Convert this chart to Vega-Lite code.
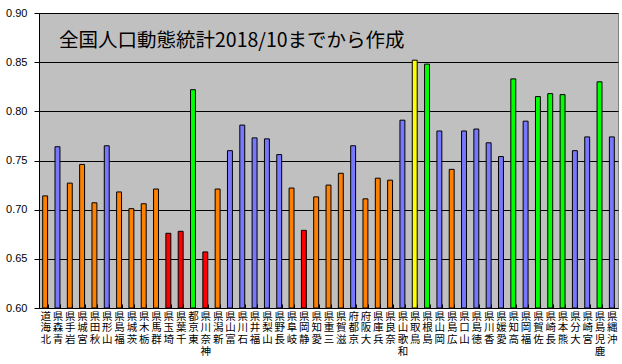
{
  "$schema": "https://vega.github.io/schema/vega-lite/v6.json",
  "autosize": "none",
  "width": 579,
  "height": 295,
  "padding": {"left": 39, "top": 13, "right": 4, "bottom": 56},
  "background": "#ffffff",
  "title": {
    "text": "全国人口動態統計2018/10までから作成",
    "anchor": "start",
    "frame": "group",
    "orient": "top",
    "font": "Noto Sans CJK JP",
    "fontSize": 19.5,
    "fontWeight": "normal",
    "color": "#000000",
    "baseline": "top",
    "offset": 0,
    "dx": 20,
    "dy": 44
  },
  "config": {
    "view": {"fill": "#C0C0C0", "stroke": "#808080", "strokeWidth": 1}
  },
  "data": {
    "values": [
      {"pref": "北海道", "value": 0.714},
      {"pref": "青森県", "value": 0.764},
      {"pref": "岩手県", "value": 0.727},
      {"pref": "宮城県", "value": 0.746},
      {"pref": "秋田県", "value": 0.707},
      {"pref": "山形県", "value": 0.765},
      {"pref": "福島県", "value": 0.718},
      {"pref": "茨城県", "value": 0.701},
      {"pref": "栃木県", "value": 0.706},
      {"pref": "群馬県", "value": 0.721},
      {"pref": "埼玉県", "value": 0.676},
      {"pref": "千葉県", "value": 0.678},
      {"pref": "東京都", "value": 0.822},
      {"pref": "神奈川県", "value": 0.657},
      {"pref": "新潟県", "value": 0.721},
      {"pref": "富山県", "value": 0.760},
      {"pref": "石川県", "value": 0.786},
      {"pref": "福井県", "value": 0.773},
      {"pref": "山梨県", "value": 0.772},
      {"pref": "長野県", "value": 0.756},
      {"pref": "岐阜県", "value": 0.722},
      {"pref": "静岡県", "value": 0.679},
      {"pref": "愛知県", "value": 0.713},
      {"pref": "三重県", "value": 0.725},
      {"pref": "滋賀県", "value": 0.737},
      {"pref": "京都府", "value": 0.765},
      {"pref": "大阪府", "value": 0.711},
      {"pref": "兵庫県", "value": 0.732},
      {"pref": "奈良県", "value": 0.730},
      {"pref": "和歌山県", "value": 0.791},
      {"pref": "鳥取県", "value": 0.852},
      {"pref": "島根県", "value": 0.848},
      {"pref": "岡山県", "value": 0.780},
      {"pref": "広島県", "value": 0.741},
      {"pref": "山口県", "value": 0.780},
      {"pref": "徳島県", "value": 0.782},
      {"pref": "香川県", "value": 0.768},
      {"pref": "愛媛県", "value": 0.754},
      {"pref": "高知県", "value": 0.833},
      {"pref": "福岡県", "value": 0.790},
      {"pref": "佐賀県", "value": 0.815},
      {"pref": "長崎県", "value": 0.818},
      {"pref": "熊本県", "value": 0.817},
      {"pref": "大分県", "value": 0.760},
      {"pref": "宮崎県", "value": 0.774},
      {"pref": "鹿児島県", "value": 0.830},
      {"pref": "沖縄県", "value": 0.774}
    ]
  },
  "mark": {"type": "bar", "stroke": "#000000", "strokeWidth": 1},
  "encoding": {
    "x": {
      "field": "pref",
      "type": "nominal",
      "sort": null,
      "scale": {"paddingInner": 0.6, "paddingOuter": 0.3},
      "axis": {
        "title": null,
        "labelAngle": 0,
        "labelExpr": "reverse(split(datum.label, ''))",
        "labelFont": "Noto Sans CJK JP",
        "labelFontSize": 10.5,
        "labelLineHeight": 11.7,
        "labelBaseline": "top",
        "labelColor": "#000000",
        "labelPadding": 7,
        "labelOverlap": false,
        "labelLimit": 0,
        "tickBand": "extent",
        "tickSize": -4,
        "tickColor": "#000000",
        "domainColor": "#000000",
        "grid": false
      }
    },
    "y": {
      "field": "value",
      "type": "quantitative",
      "scale": {"domain": [0.6, 0.9], "zero": false, "nice": false},
      "axis": {
        "title": null,
        "values": [0.6, 0.65, 0.7, 0.75, 0.8, 0.85, 0.9],
        "format": ".2f",
        "labelFont": "Liberation Sans",
        "labelFontSize": 11,
        "labelColor": "#000000",
        "labelPadding": 7,
        "tickSize": 5,
        "tickColor": "#000000",
        "domainColor": "#000000",
        "grid": true,
        "gridColor": "#000000",
        "gridOpacity": 1,
        "gridWidth": 1
      }
    },
    "y2": {"datum": 0.6},
    "color": {
      "field": "value",
      "type": "quantitative",
      "scale": {
        "type": "threshold",
        "domain": [0.68, 0.75, 0.8, 0.85],
        "range": ["#FF0000", "#FF8000", "#7878FF", "#00FF00", "#FFFF00"]
      },
      "legend": null
    }
  }
}
